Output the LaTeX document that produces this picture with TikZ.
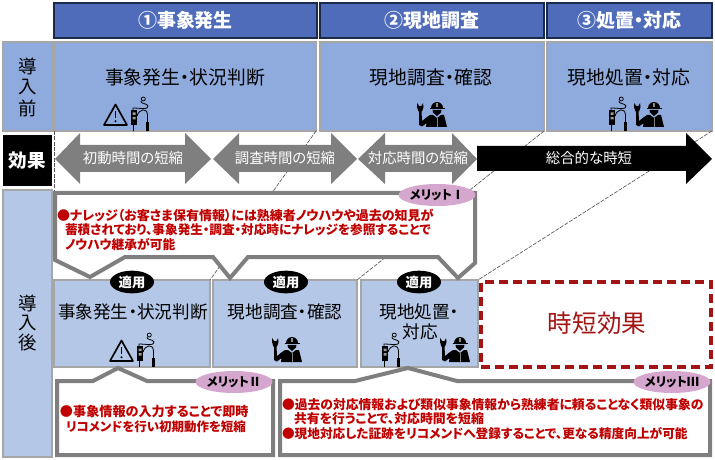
\documentclass[tikz,border=0pt]{standalone}
\usepackage{fontspec}
\setmainfont{Noto Sans CJK JP}[RawFeature={+palt}]
\usetikzlibrary{shapes.geometric}
\definecolor{hdr}{HTML}{4F6CBB}
\definecolor{hdredge}{HTML}{1C2A4A}
\definecolor{befo}{HTML}{8FAADC}
\definecolor{afte}{HTML}{B4C7E7}
\definecolor{edgeg}{HTML}{A6A6A6}
\definecolor{calg}{HTML}{7F7F7F}
\definecolor{redt}{HTML}{C00000}
\definecolor{redd}{HTML}{A31515}
\definecolor{pinkm}{HTML}{D5A6CE}
\newcommand{\pxbox}[7][]{%
  \pgfmathsetmacro{\pxcx}{(#3+#5)/2}\pgfmathsetmacro{\pxcy}{(#4+#6)/2}%
  \pgfmathsetmacro{\pxw}{(#5-#3)*0.75}\pgfmathsetmacro{\pxh}{(#6-#4)*0.75}%
  \node[#1,minimum width=\pxw pt,minimum height=\pxh pt] (#2) at (\pxcx,\pxcy) {#7};}
\tikzset{
  x=0.75pt,y=-0.75pt,
  base/.style={inner sep=0pt,outer sep=0pt},
  hdrbox/.style={base,fill=hdr,draw=hdredge,line width=1.2pt,text=white,font=\fontsize{14.2}{16}\selectfont\bfseries},
  befbox/.style={base,fill=befo,draw=edgeg,line width=1.1pt},
  aftbox/.style={base,fill=afte,draw=edgeg,line width=1.1pt},
  redbox/.style={base,draw=redd,line width=2.6pt,dash pattern=on 7pt off 3.5pt},
  t/.style={inner sep=0pt,outer sep=0pt},
  tbig/.style={t,font=\fontsize{14.1}{16}\selectfont},
  tsmall/.style={t,font=\fontsize{13.2}{15}\selectfont},
  tarrow/.style={t,text=white,font=\fontsize{10.8}{13}\selectfont},
  tred/.style={t,anchor=west,text=redt,font=\fontsize{#1}{12}\selectfont\bfseries},
  tvert/.style={t,font=\fontsize{13.8}{16}\selectfont},
  callout/.style={fill=white,draw=calg,line width=3pt,miter limit=10},
  dashl/.style={draw=black!65,line width=0.5pt,dash pattern=on 3pt off 1pt},
  merit/.style={ellipse,fill=pinkm,inner sep=0pt,outer sep=0pt,minimum width=47.5pt,minimum height=16.5pt,font=\fontsize{9.2}{10}\selectfont\bfseries},
  tekiyo/.style={ellipse,fill=black,text=white,inner sep=0pt,outer sep=0pt,minimum width=33pt,minimum height=17pt,font=\fontsize{10}{11}\selectfont\bfseries},
  warnicon/.pic={
    \draw[line width=1.25pt,line join=round,fill=none] (12.5,1.5)--(24,22)--(1,22)--cycle;
    \draw[line width=1.3pt] (12.5,8)--(12.5,15);
    \fill (12.5,18.3) circle (1.1);
  },
  devicon/.pic={
    \fill (0,0) rectangle (6,15);
    \fill[white,opacity=.6] (1.5,2.5) rectangle (4.5,5) (1.5,7) rectangle (4.5,9.5);
    \draw[line width=.6pt] (2,15)--(2,21);
    \draw[line width=.6pt] (6,6) .. controls (8,-1) and (16,-3) .. (16.5,5)--(16.5,13);
    \fill (14.8,12) rectangle (18.2,21);
    \draw[line width=.6pt] (2,0)--(2,-2) .. controls (8,-2) and (18,0) .. (17,-4) .. controls (16,-7) and (9,-6) .. (10,-9);
    \draw[line width=.6pt] (12.3,-11) circle (2);
  },
  workericon/.pic={
    % helmet (the y axis points down, so the dome runs from 180 to 360)
    \fill (14,6) arc[start angle=180,end angle=360,radius=6];
    \fill[white,opacity=.55] (18.6,0.6) rectangle (21.4,5);
    \draw[line width=.9pt] (12.5,6.6)--(27.5,6.6);
    \fill (15.5,7.8)--(24.5,7.8)--(24,10.5)--(20,14)--(16,10.5)--cycle;
    % body and arm
    \fill (13,13)--(16,13)--(20,16)--(24,13)--(27,13)--(30,25)--(9,25)--(9.5,21)--(5,24.5)--(2,23)--(2,9)--(4.5,9)--(5,19)--(10,15)--cycle;
    \draw[white,opacity=.5,line width=.4pt] (20,16)--(20,25);
    % wrench
    \fill (1.4,9.5)--(0,5)--(0.3,1)--(2,4)--(4.5,4)--(6,1)--(6.5,5)--(5,9.5)--cycle;
  },
}
\begin{document}
\begin{tikzpicture}
\useasboundingbox (0,0) rectangle (715,460);
% headers
\pxbox[hdrbox]{h1}{54}{3}{317}{38}{①事象発生}
\pxbox[hdrbox]{h2}{320}{3}{544}{38}{②現地調査}
\pxbox[hdrbox]{h3}{547}{3}{712}{38}{③処置・対応}
% before row
\pxbox[befbox]{lb}{3}{42}{52}{131}{}
\pxbox[befbox]{b1}{54}{42}{316}{131}{}
\pxbox[befbox]{b2}{320}{42}{544}{131}{}
\pxbox[befbox]{b3}{547}{42}{712}{131}{}
\node[tvert] (lb1) at (28,66) {導};
\node[tvert] (lb2) at (28,87) {入};
\node[tvert] (lb3) at (28,108) {前};
\node[tbig] (bt1) at (185,77) {事象発生・状況判断};
\node[tbig] (bt2) at (431,77) {現地調査・確認};
\node[tbig] (bt3) at (629,77) {現地処置・対応};
\path (103,103) pic {warnicon};
\path (131,110) pic {devicon};
\path (417,102) pic {workericon};
\path (609,110) pic {devicon};
\path (634,102) pic {workericon};
% after-row boxes (declared first so the guide lines can use their corners)
\pxbox[aftbox]{la}{3}{190}{52}{457}{}
\pxbox[aftbox]{a1}{54}{280}{210}{367}{}
\pxbox[aftbox]{a2}{213}{280}{357}{367}{}
\pxbox[aftbox]{a3}{361}{280}{478}{367}{}
% guide lines
\draw[dashl] (b1.south west)--(54,190);
\draw[dashl] (b1.south east)--(a1.north east);
\draw[dashl] (b2.south east)--(a2.north east);
\draw[dashl] (b3.south east)--(a3.north east);
% effect row
\pxbox[base,fill=black,text=white,font=\fontsize{13.9}{16}\selectfont\bfseries]{ef}{3}{135}{52}{186}{効果}
\fill[calg] (55,159)--(80,133)--(80,145)--(185,145)--(185,133)--(211,159)--(185,184)--(185,172)--(80,172)--(80,184)--cycle;
\fill[calg] (213,159)--(239,133)--(239,145)--(331,145)--(331,133)--(357,159)--(331,184)--(331,172)--(239,172)--(239,184)--cycle;
\fill[calg] (358,159)--(385,133)--(385,145)--(452,145)--(452,133)--(477,159)--(452,184)--(452,172)--(385,172)--(385,184)--cycle;
\fill[black] (477,146)--(686,146)--(686,133)--(712,159)--(686,184)--(686,171)--(477,171)--cycle;
\node[tarrow] (e1) at (133,158) {初動時間の短縮};
\node[tarrow] (e2) at (285,158) {調査時間の短縮};
\node[tarrow] (e3) at (418,158) {対応時間の短縮};
\node[tarrow] (e4) at (589,158) {総合的な時短};
% callout I
\draw[callout] (55,193)--(475,193)--(475,263)--(458,278)--(438,257)--(248,257)--(230,278)--(213,257)--(125,257)--(90,277)--(55,260)--cycle;
\node[tred=9.75] (c11) at (57,215) {●ナレッジ（お客さま保有情報）には熟練者ノウハウや過去の知見が};
\node[tred=9.5] (c12) at (65,230) {蓄積されており、事象発生・調査・対応時にナレッジを参照することで};
\node[tred=9.55] (c13) at (65,245) {ノウハウ継承が可能};
\node[merit] (m1) at (437,195) {メリットⅠ};
% after-row text
\node[tvert] (la1) at (28,303) {導};
\node[tvert] (la2) at (28,323) {入};
\node[tvert] (la3) at (28,343) {後};
\node[tsmall] (at1) at (133,312) {事象発生・状況判断};
\node[tsmall] (at2) at (285,312) {現地調査・確認};
\node[tsmall] (at3) at (419,312) {現地処置・};
\node[tsmall] (at4) at (420,332) {対応};
\path (109,339) pic {warnicon};
\path (137,346) pic {devicon};
\path (272,337) pic {workericon};
\path (382,346) pic {devicon};
\path (440,337) pic {workericon};
\node[tekiyo] (t1) at (132,282) {適用};
\node[tekiyo] (t2) at (286,282) {適用};
\node[tekiyo] (t3) at (419,282) {適用};
% time saving box
\pxbox[redbox]{sv}{481}{282}{711}{367}{}
\node[t,text=redd,font=\fontsize{18.4}{21}\selectfont] (svt) at (597,323) {時短効果};
% callouts II, III
\draw[callout] (57,381)--(93,381)--(118,368)--(147,381)--(273,381)--(273,455)--(57,455)--cycle;
\node[tred=9.85] (c21) at (60,412) {●事象情報の入力することで即時};
\node[tred=9.35] (c22) at (66,427) {リコメンドを行い初期動作を短縮};
\node[merit] (m2) at (234,382) {メリットⅡ};
\draw[callout] (280,381)--(355,381)--(408,368)--(457,381)--(710,381)--(710,455)--(280,455)--cycle;
\node[tred=9.6] (c31) at (282,405) {●過去の対応情報および類似事象情報から熟練者に頼ることなく類似事象の};
\node[tred=9.65] (c32) at (294,419) {共有を行うことで、対応時間を短縮};
\node[tred=9.5] (c33) at (282,434) {●現地対応した証跡をリコメンドへ登録することで、更なる精度向上が可能};
\node[merit] (m3) at (672,382) {メリットⅢ};
\end{tikzpicture}
\end{document}
